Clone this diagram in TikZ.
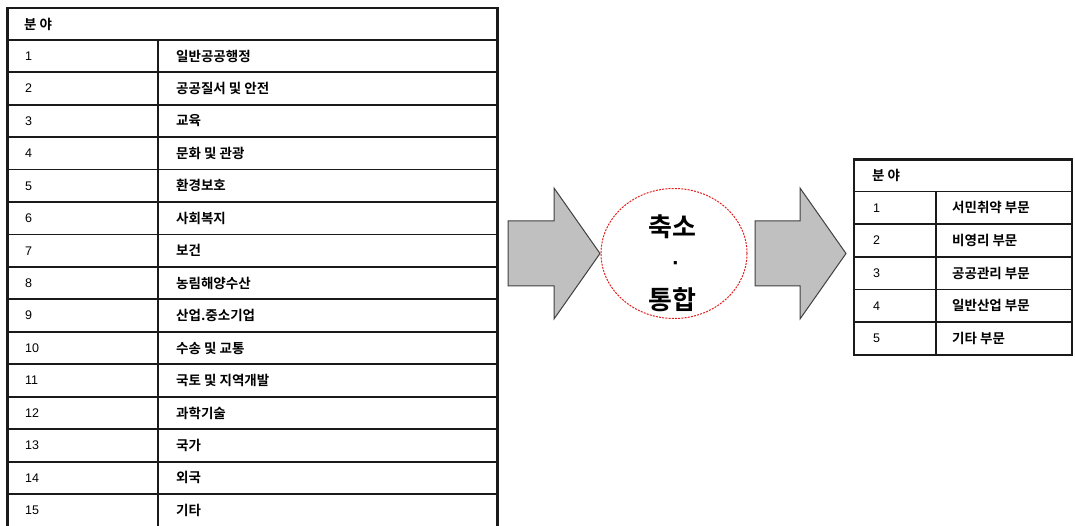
\documentclass[tikz,border=0pt]{standalone}
\usepackage{fontspec}
\usetikzlibrary{shapes.geometric}
\setmainfont{Liberation Sans}
\newfontfamily\kr{Noto Sans CJK KR}[BoldFont={Noto Sans CJK KR Bold}]
\definecolor{arrowfill}{HTML}{C0C0C0}
\definecolor{arrowline}{HTML}{404040}
\definecolor{ellred}{HTML}{E02020}
\definecolor{tline}{HTML}{1A1A1A}
\begin{document}
\begin{tikzpicture}[x=1pt,y=-1pt,
  tbl/.style={draw=tline,line width=1.8pt},
  tblouter/.style={draw=tline,line width=2.3pt},
  numtxt/.style={anchor=west,inner sep=0pt,font=\fontsize{12.5}{12.5}\selectfont},
  krtxt/.style={anchor=west,inner sep=0pt,font=\kr\bfseries\fontsize{13.5}{13.5}\selectfont},
  bigarrow/.style={fill=arrowfill,draw=arrowline,line width=1pt,line join=miter},
  centertxt/.style={inner sep=0pt,font=\kr\bfseries\fontsize{26}{26}\selectfont}]
\useasboundingbox (0,0) rectangle (1075,526);

% ---------- left table ----------
\def\lt{7.5}\def\lr{497.5}\def\ld{158}\def\ltop{8}\def\lh{39.8}\def\lrow{32.45}
\fill[white] (\lt,\ltop) rectangle (\lr,540);
\foreach \i in {0,...,15}{
  \pgfmathsetmacro\yy{\lh+\i*\lrow}
  \draw[tbl] (\lt,\yy) -- (\lr,\yy);
}
\draw[tbl] (\ld,\lh) -- (\ld,540);
\draw[tblouter] (\lt,540) -- (\lt,\ltop) -- (\lr,\ltop) -- (\lr,540);
\node[krtxt] (lhead) at (24,24) {분 야};
\foreach \n/\t in {1/일반공공행정,2/공공질서 및 안전,3/교육,4/문화 및 관광,5/환경보호,6/사회복지,7/보건,8/농림해양수산,9/산업.중소기업,10/수송 및 교통,11/국토 및 지역개발,12/과학기술,13/국가,14/외국,15/기타}{
  \pgfmathsetmacro\yc{\lh+(\n-0.5)*\lrow}
  \node[numtxt] (ln\n) at (25,\yc) {\n};
  \node[krtxt] (lt\n) at (176,\yc) {\t};
}

% ---------- arrows ----------
\draw[bigarrow] (508,221) -- (554,221) -- (554,188) -- (600,253.5) -- (554,319) -- (554,286) -- (508,286) -- cycle;
\draw[bigarrow] (755,221) -- (800,221) -- (800,188) -- (846,253.5) -- (800,319) -- (800,286) -- (755,286) -- cycle;

% ---------- ellipse ----------
\node[draw=ellred,line width=1pt,dash pattern=on 2pt off 1.2pt,ellipse,minimum width=146pt,minimum height=130pt,inner sep=0pt] (ell) at (674,253.5) {};
\node[centertxt] (c1) at (672,227) {축소};
\node[inner sep=0pt,font=\fontsize{22}{22}\selectfont\bfseries] (c2) at (676,266) {·};
\node[centertxt] (c3) at (672,300) {통합};

% ---------- right table ----------
\def\rl{854}\def\rr{1072}\def\rd{936}\def\rtop{159.5}\def\rh{191.5}\def\rrow{32.7}
\fill[white] (\rl,\rtop) rectangle (\rr,355);
\foreach \i in {1,...,4}{
  \pgfmathsetmacro\yy{\rh+\i*\rrow}
  \draw[tbl] (\rl,\yy) -- (\rr,\yy);
}
\draw[tbl] (\rl,\rh) -- (\rr,\rh);
\draw[tbl] (\rd,\rh) -- (\rd,355);
\draw[tblouter] (\rl,\rtop) rectangle (\rr,355);
\node[krtxt] (rhead) at (872,175.5) {분 야};
\foreach \n/\t in {1/서민취약 부문,2/비영리 부문,3/공공관리 부문,4/일반산업 부문,5/기타 부문}{
  \pgfmathsetmacro\yc{\rh+(\n-0.5)*\rrow}
  \node[numtxt] (rn\n) at (873,\yc) {\n};
  \node[krtxt] (rt\n) at (952,\yc) {\t};
}
\end{tikzpicture}
\end{document}
